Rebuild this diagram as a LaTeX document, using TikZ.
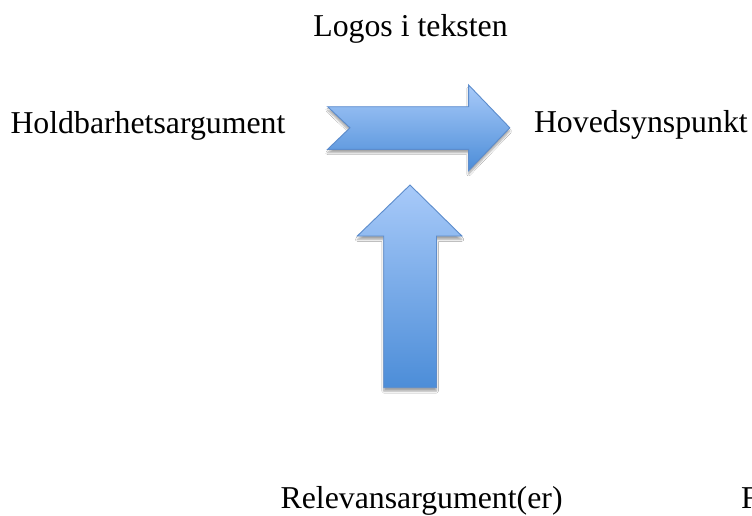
\documentclass[tikz,border=0pt]{standalone}
\usepackage{fontspec}
\setmainfont{Liberation Serif}
\usetikzlibrary{shadows.blur}
\definecolor{arrowlight}{RGB}{168,202,249}
\definecolor{arrowdark}{RGB}{76,141,216}
\definecolor{arrowedge}{RGB}{92,140,204}
\begin{document}
\begin{tikzpicture}[x=1pt,y=-1pt,
  lbl/.style={inner sep=0pt,outer sep=0pt,font=\fontsize{31.8}{36}\selectfont},
  blockarrow/.style={draw=arrowedge,line width=0.9pt,line join=miter,
    top color=arrowlight,bottom color=arrowdark,
    blur shadow={shadow xshift=0pt,shadow yshift=-3.5pt,shadow blur steps=6,shadow opacity=35}}]
  \useasboundingbox (0,0) rectangle (752,515);
  \fill[white] (0,0) rectangle (752,515);

  % horizontal notched arrow
  \path[blockarrow] (327.6,106.7) -- (468.6,106.7) -- (468.6,85) -- (509.8,127.8)
    -- (468.6,170.7) -- (468.6,149.3) -- (327.6,149.3) -- (350,127.8) -- cycle;

  % vertical arrow pointing up
  \path[blockarrow] (410,185) -- (461.9,236) -- (436.5,236) -- (436.5,387.7)
    -- (383.7,387.7) -- (383.7,236) -- (357.3,236) -- cycle;

  % labels
  \node[lbl,anchor=base] (logos) at (410.5,36.7) {Logos i teksten};
  \node[lbl,anchor=base west] (hold) at (10.5,133) {Holdbarhetsargument};
  \node[lbl,anchor=base west] (hoved) at (534,132) {Hovedsynspunkt};
  \node[lbl,anchor=base west] (relev) at (280.6,508.5) {Relevansargument(er)};
  \begin{scope}
    \clip (0,0) rectangle (752,515);
    \node[lbl,anchor=base west] (f) at (741,508.5) {F};
  \end{scope}
\end{tikzpicture}
\end{document}
